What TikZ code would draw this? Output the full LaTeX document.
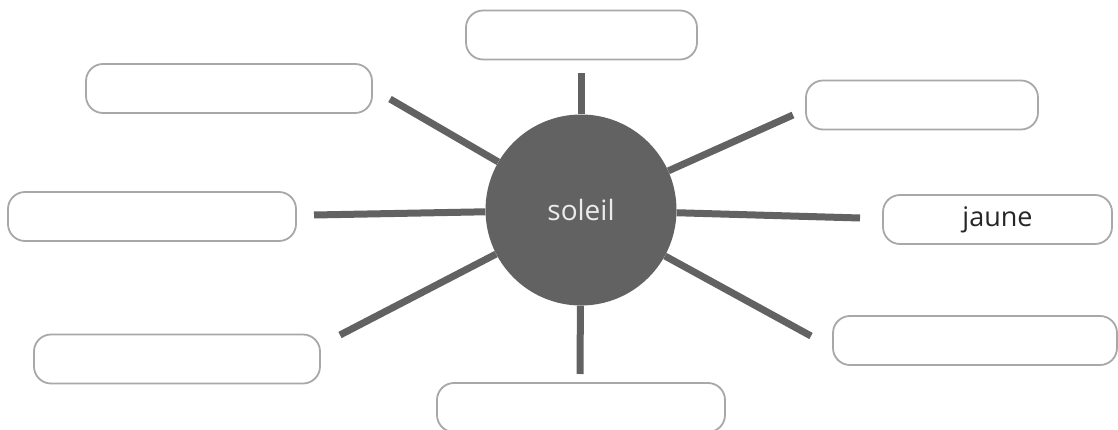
\documentclass[tikz,border=0pt]{standalone}
\usepackage{fontspec}
\setmainfont{Open Sans}
\definecolor{spoke}{HTML}{626262}
\definecolor{boxline}{HTML}{A8A8A8}
\begin{document}
\begin{tikzpicture}[x=1pt,y=-1pt,
  wordbox/.style={draw=boxline,line width=1.8pt,rounded corners=17pt,fill=white,inner sep=0pt,
    minimum width=#1,minimum height=49pt,font=\fontsize{27}{30}\selectfont,text=black!85},
  wordbox/.default=288pt,
  ray/.style={draw=spoke,line width=7pt}]
\useasboundingbox (0,0) rectangle (1118,430);
\node[circle,fill=spoke,minimum size=191pt,inner sep=0pt,text=white!92!black,font=\fontsize{28}{30}\selectfont] (c) at (581,210) {soleil};
% boxes
\node[wordbox=231pt] (bT) at (581.5,35) {};
\node[wordbox=286pt] (bTL) at (229,88.5) {};
\node[wordbox=232pt] (bTR) at (922,105) {};
\node[wordbox=288pt] (bL) at (152,216.5) {};
\node[wordbox=229pt] (bR) at (997.5,219.5) {jaune};
\node[wordbox=286pt] (bBL) at (177,359) {};
\node[wordbox=284pt] (bBR) at (975,340.5) {};
\node[wordbox=288pt] (bB) at (581,407.5) {};
% spoke ends
\coordinate (pT) at (581,73);
\coordinate (pB) at (580,374);
\coordinate (pTL) at (390,99);
\coordinate (pTR) at (793,115);
\coordinate (pL) at (314,215);
\coordinate (pR) at (860,218);
\coordinate (pBL) at (340,335);
\coordinate (pBR) at (811,336);
\foreach \p in {pT,pB,pTL,pTR,pL,pR,pBL,pBR} \draw[ray] (c) -- (\p);
\end{tikzpicture}
\end{document}
